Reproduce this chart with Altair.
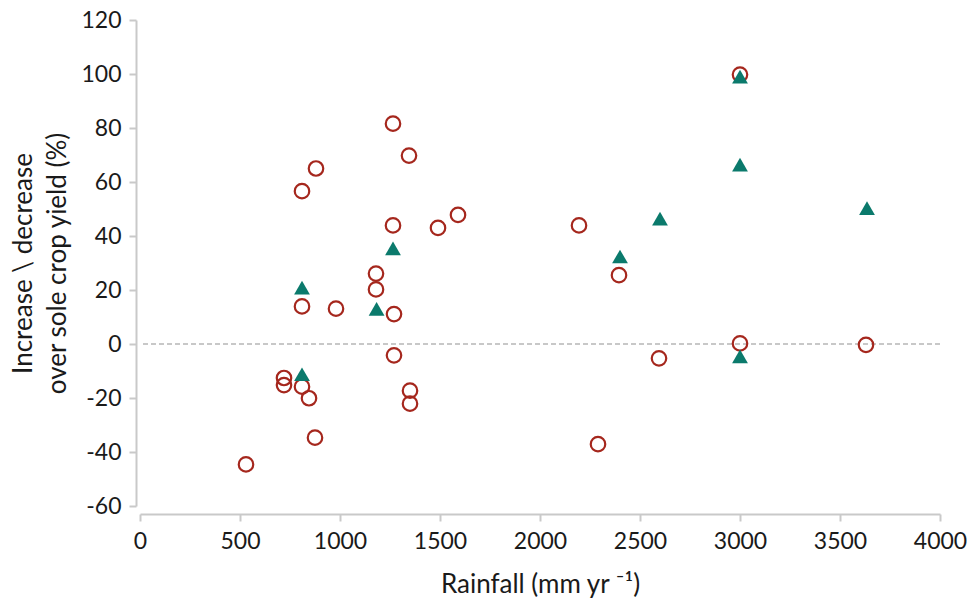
import altair as alt
import pandas as pd

# Open red circles
circle_rain = [530, 720, 720, 810, 845, 875, 810, 980, 1270, 1270, 1350, 1350,
               810, 880, 1265, 1345, 1265, 1490, 1590, 1180, 1180,
               3000, 2195, 2395, 2595, 3000, 3630, 2290]
circle_change = [-44.6, -12.6, -15.2, -15.8, -20.1, -34.7, 13.9, 13.1, 11.1, -4.2, -17.3, -22.1,
                 56.6, 65.0, 81.6, 69.8, 43.9, 43.0, 47.8, 26.1, 20.2,
                 99.8, 43.9, 25.5, -5.3, 0.2, -0.3, -37.1]

# Filled teal triangles
tri_rain = [810, 1265, 1183, 810, 3000, 3000, 2600, 2400, 3635, 3000]
tri_change = [20.9, 35.4, 13.0, -11.2, 99.0, 66.4, 46.4, 32.4, 50.3, -4.6]

x_ticks = [0, 500, 1000, 1500, 2000, 2500, 3000, 3500, 4000]
y_ticks = [-60, -40, -20, 0, 20, 40, 60, 80, 100, 120]

RED = "#a5271d"
TEAL = "#0b7a6c"
AXIS_GREY = "#c9c9c9"
TEXT = "#1a1a1a"
FONT = "Lato"

df_c = pd.DataFrame({"rain": circle_rain, "change": circle_change})
df_t = pd.DataFrame({"rain": tri_rain, "change": tri_change})
df_zero = pd.DataFrame({"y": [0]})

x_enc = alt.X(
    "rain:Q",
    scale=alt.Scale(domain=[0, 4000], nice=False, zero=False),
    axis=alt.Axis(
        values=x_ticks,
        labelExpr="'' + datum.value",
        labelFlush=False,
        title="Rainfall (mm yr \u207b\u00b9)",
        grid=False,
        offset=8,
        domainColor=AXIS_GREY,
        domainWidth=2,
        tickColor=AXIS_GREY,
        tickWidth=2,
        tickSize=7,
        labelFont=FONT,
        labelFontSize=23,
        labelColor=TEXT,
        labelPadding=9,
        titleFont=FONT,
        titleFontSize=26,
        titleFontWeight="normal",
        titleColor=TEXT,
        titlePadding=18,
    ),
)
y_enc = alt.Y(
    "change:Q",
    scale=alt.Scale(domain=[-60, 120], nice=False, zero=False),
    axis=alt.Axis(
        values=y_ticks,
        labelExpr="'' + datum.value",
        labelFlush=False,
        title=["Increase \\ decrease", "over sole crop yield (%)"],
        grid=False,
        offset=4,
        domainColor=AXIS_GREY,
        domainWidth=2,
        tickColor=AXIS_GREY,
        tickWidth=2,
        tickSize=7,
        labelFont=FONT,
        labelFontSize=23,
        labelColor=TEXT,
        labelPadding=8,
        titleFont=FONT,
        titleFontSize=26,
        titleFontWeight="normal",
        titleColor=TEXT,
        titleLineHeight=34,
        titlePadding=10,
    ),
)

zero_line = alt.Chart(df_zero).mark_rule(
    color="#c8c8c8", strokeWidth=2, strokeDash=[5, 3]
).encode(y=alt.Y("y:Q", scale=alt.Scale(domain=[-60, 120], nice=False, zero=False)))

circles = alt.Chart(df_c).mark_point(
    shape="circle", filled=False, color=RED, strokeWidth=2.2, size=210, opacity=1
).encode(x=x_enc, y=y_enc)

triangles = alt.Chart(df_t).mark_point(
    shape="triangle-up", filled=True, color=TEAL, size=250, opacity=1
).encode(x=x_enc, y=y_enc)

chart = alt.layer(zero_line, circles, triangles).properties(
    width=800,
    height=486,
    autosize=alt.AutoSizeParams(type="none"),
    padding={"left": 132, "top": 12, "right": 27, "bottom": 95},
).configure_view(stroke=None)

chart.save("out.html", embed_options={"renderer": "svg", "actions": False})
